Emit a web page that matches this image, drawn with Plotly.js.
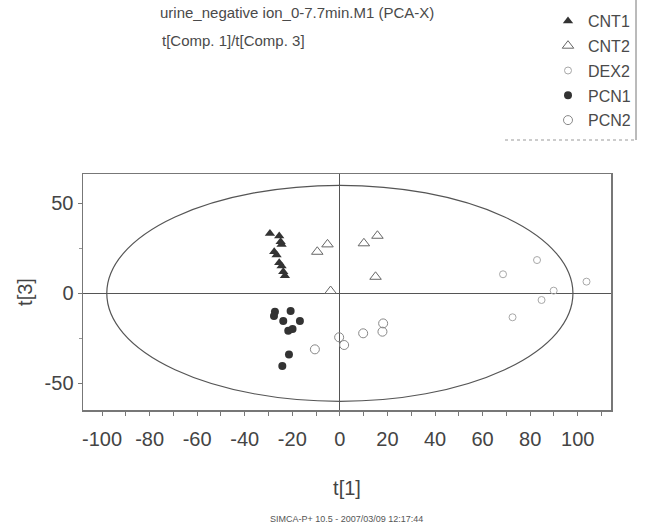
<!DOCTYPE html>
<html>
<head>
<meta charset="utf-8">
<script src="https://cdn.plot.ly/plotly-3.0.1.min.js"></script>
<style>html,body{margin:0;padding:0;background:#fff;}#chart{width:645px;height:529px;}</style>
</head>
<body>
<div id="chart"></div>
<script>
// ---- data ----
var groupNames = ["CNT1", "CNT2", "DEX2", "PCN1", "PCN2"];

var cnt1X = [-29.4, -25.5, -24.9, -24.5, -27.6, -26.6, -25.5, -24.5, -23.8, -23.1];
var cnt1Y = [33.3, 31.8, 28.7, 27.2, 23.1, 21.3, 17.0, 15.2, 12.0, 9.8];

var cnt2X = [-9.5, -5.2, 10.1, 15.8, 15.0, -3.9];
var cnt2Y = [23.1, 27.2, 27.8, 32.0, 9.2, 1.3];

var dex2X = [82.9, 68.6, 103.7, 89.9, 84.8, 72.6];
var dex2Y = [18.5, 10.6, 6.5, 1.5, -3.7, -13.3];

var pcn1X = [-27.3, -27.7, -20.7, -23.8, -16.8, -21.7, -19.9, -21.4, -24.2];
var pcn1Y = [-10.2, -12.6, -9.8, -15.4, -15.4, -20.8, -19.8, -33.9, -40.4];

var pcn2X = [-10.5, -0.3, 1.8, 9.8, 18.2, 17.9];
var pcn2Y = [-31.1, -24.4, -28.7, -22.2, -16.7, -21.3];

// Hotelling T2 ellipse semi-axes (t[1], t[3])
var ellipseA = 98;
var ellipseB = 60;

var xTickVals = [-100, -80, -60, -40, -20, 0, 20, 40, 60, 80, 100];
var xTickText = ["-100", "-80", "-60", "-40", "-20", "0", "20", "40", "60", "80", "100"];
var yTickVals = [-50, 0, 50];
var yTickText = ["-50", "0", "50"];

var titleLine1 = "urine_negative ion_0-7.7min.M1 (PCA-X)";
var titleLine2 = "t[Comp. 1]/t[Comp. 3]";
var footerText = "SIMCA-P+ 10.5 - 2007/03/09 12:17:44";

// ---- plot ----
var FONT = "'Liberation Sans', Arial, sans-serif";
var W = 645, H = 529, L = 83, R = 34, T = 174, B = 119;
var pw = W - L - R, ph = H - T - B;
function px(x) { return (x - L) / pw; }
function py(y) { return (H - B - y) / ph; }

var styles = [
  {symbol: "triangle-up", color: "#333333", size: 9, lineColor: "#333333", lw: 0},
  {symbol: "triangle-up-open", color: "#666666", size: 10, lineColor: "#666666", lw: 1},
  {symbol: "circle-open", color: "#a8a8a8", size: 7, lineColor: "#a8a8a8", lw: 1},
  {symbol: "circle", color: "#333333", size: 8, lineColor: "#333333", lw: 0},
  {symbol: "circle-open", color: "#888888", size: 9, lineColor: "#888888", lw: 1}
];
var xs = [cnt1X, cnt2X, dex2X, pcn1X, pcn2X];
var ys = [cnt1Y, cnt2Y, dex2Y, pcn1Y, pcn2Y];

var traces = groupNames.map(function (name, i) {
  var s = styles[i];
  return {
    type: "scatter", mode: "markers", name: name, legendgroup: name,
    x: xs[i], y: ys[i],
    marker: {symbol: s.symbol, color: s.color, size: s.size, line: {color: s.lineColor, width: s.lw}},
    cliponaxis: false
  };
});

var layout = {
  width: W, height: H,
  margin: {l: L, r: R, t: T, b: B, autoexpand: false},
  paper_bgcolor: "#ffffff", plot_bgcolor: "#ffffff",
  font: {family: FONT, color: "#444444"},
  title: {
    text: titleLine1, font: {family: FONT, size: 15, color: "#4a4a4a"},
    xref: "container", yref: "container", x: 160 / W, xanchor: "left",
    y: 1 - 7 / H, yanchor: "top", pad: {t: 0, b: 0, l: 0, r: 0}
  },
  showlegend: true,
  legend: {
    x: px(548), xanchor: "left", y: py(4), yanchor: "top",
    font: {family: FONT, size: 16, color: "#4a4a4a"},
    bgcolor: "rgba(0,0,0,0)", borderwidth: 0,
    traceorder: "grouped", tracegroupgap: 1, itemclick: false
  },
  xaxis: {
    range: [-108, 114], showgrid: false, automargin: false,
    zeroline: true, zerolinecolor: "#555555", zerolinewidth: 1,
    showline: true, mirror: true, linecolor: "#777777", linewidth: 1.5,
    tickmode: "array", tickvals: xTickVals, ticktext: xTickText,
    ticks: "outside", ticklen: 4, tickcolor: "#777777",
    ticklabelstandoff: 6,
    minor: {dtick: 10, tick0: 0, ticks: "outside", ticklen: 4, tickcolor: "#777777", showgrid: false},
    tickfont: {family: FONT, size: 20, color: "#444444"},
    title: {text: "t[1]", font: {family: FONT, size: 20, color: "#444444"}, standoff: 32}
  },
  yaxis: {
    range: [-64.8, 66.3], showgrid: false, automargin: false,
    zeroline: true, zerolinecolor: "#555555", zerolinewidth: 1,
    showline: true, mirror: true, linecolor: "#777777", linewidth: 1.5,
    tickmode: "array", tickvals: yTickVals, ticktext: yTickText,
    ticks: "outside", ticklen: 4, tickcolor: "#777777",
    minor: {dtick: 25, tick0: 0, ticks: "outside", ticklen: 3, tickcolor: "#999999", showgrid: false},
    tickfont: {family: FONT, size: 20, color: "#444444"},
    title: {text: "t[3]", font: {family: FONT, size: 20, color: "#444444"}, standoff: 6}
  },
  shapes: [
    {type: "circle", xref: "x", yref: "y", x0: -ellipseA, x1: ellipseA, y0: -ellipseB, y1: ellipseB,
     line: {color: "#555555", width: 1.2}, fillcolor: "rgba(0,0,0,0)", layer: "above"},
    {type: "line", xref: "paper", yref: "paper", x0: px(636), x1: px(636), y0: py(0), y1: py(140),
     line: {color: "#777777", width: 1}},
    {type: "line", xref: "paper", yref: "paper", x0: px(505), x1: px(636), y0: py(140), y1: py(140),
     line: {color: "#999999", width: 1, dash: "dot"}}
  ],
  annotations: [
    {text: titleLine2, xref: "paper", yref: "paper", x: px(160), y: py(40), xanchor: "left", yanchor: "middle",
     showarrow: false, font: {family: FONT, size: 15, color: "#4a4a4a"}},
    {text: footerText, xref: "paper", yref: "paper", x: px(346), y: py(519), xanchor: "center", yanchor: "middle",
     showarrow: false, font: {family: FONT, size: 9, color: "#555555"}}
  ]
};

Plotly.newPlot("chart", traces, layout, {displayModeBar: false, staticPlot: true});
</script>
</body>
</html>
